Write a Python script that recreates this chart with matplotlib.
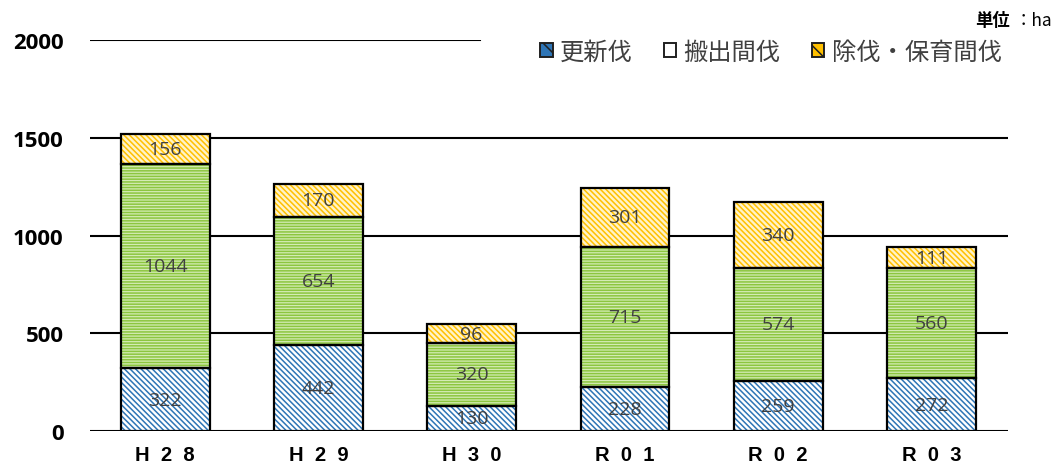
import matplotlib
matplotlib.use('Agg')
from matplotlib import pyplot as plt
import numpy as np

plt.rcParams['font.family'] = ['Noto Sans CJK JP', 'DejaVu Sans']
plt.rcParams['hatch.linewidth'] = 1.1

# data
years = ['H  2  8', 'H  2  9', 'H  3  0', 'R  0  1', 'R  0  2', 'R  0  3']
koushin = [322, 442, 130, 228, 259, 272]      # 更新伐
hanshutsu = [1044, 654, 320, 715, 574, 560]   # 搬出間伐
jobatsu = [156, 170, 96, 301, 340, 111]       # 除伐・保育間伐
series_names = ['更新伐', '搬出間伐', '除伐・保育間伐']

fig = plt.figure(figsize=(10.59, 4.77), dpi=100)
ax = fig.add_axes([0.085, 0.094, 0.867, 0.82])

x = np.arange(len(years))
width = 0.58

styles = [
    # facecolor, hatch colour, hatch
    ('white', '#2e75b6', '\\\\\\\\\\\\'),
    ('#d4ebb5', '#8cc63f', '------'),
    ('#fff3c8', '#ffc000', '\\\\\\\\\\\\'),
]

bottoms = np.zeros(len(years))
handles = []
for vals, (fc, hc, hatch), name in zip([koushin, hanshutsu, jobatsu], styles, series_names):
    vals = np.array(vals)
    ax.bar(x, vals, width, bottom=bottoms, facecolor=fc, edgecolor=hc,
           hatch=hatch, linewidth=0, zorder=3)
    ax.bar(x, vals, width, bottom=bottoms, facecolor='none', edgecolor='black',
           linewidth=1.6, zorder=4)
    for xi, b, v in zip(x, bottoms, vals):
        ax.text(xi, b + v / 2, str(v), ha='center', va='center', fontsize=14,
                color='#404040', family=['Open Sans'], zorder=5)
    if name == '搬出間伐':
        h = plt.Rectangle((0, 0), 1, 1, facecolor='white', edgecolor='#202020',
                          hatch='-', linewidth=1.4)
    else:
        h = plt.Rectangle((0, 0), 1, 1, facecolor=hc, edgecolor='#202020', hatch='\\\\',
                          linewidth=1.4)
    handles.append(h)
    bottoms = bottoms + vals

ax.set_xlim(-0.49, 5.5)
ax.set_ylim(0, 2000)
ax.set_yticks([0, 500, 1000, 1500, 2000])
for yv in [0, 500, 1000, 1500]:
    ax.axhline(yv, color='black', linewidth=1.5, zorder=1)
# top gridline stops where the legend begins
ax.axhline(2000, xmax=0.425, color='black', linewidth=1.5, zorder=1)

ax.set_xticks(x)
ax.set_xticklabels(years, fontsize=14.5, fontweight='bold', family=['Liberation Sans'])
ax.tick_params(axis='x', length=0, pad=10)
ax.tick_params(axis='y', length=0, pad=19)
for lab in ax.get_yticklabels():
    lab.set_fontsize(16)
    lab.set_fontweight('bold')
    lab.set_family(['Open Sans'])

for s in ax.spines.values():
    s.set_visible(False)

leg = ax.legend(handles, series_names, loc='center right', bbox_to_anchor=(0.955, 0.889),
                bbox_transform=fig.transFigure, ncol=3, frameon=True, fontsize=17.5,
                handlelength=0.5, handleheight=0.5, handletextpad=0.3,
                columnspacing=1.3, borderpad=0.4, borderaxespad=0)
leg.get_frame().set_edgecolor('white')
leg.get_frame().set_facecolor('white')
leg.get_frame().set_alpha(1)
leg.get_frame().set_boxstyle('square', pad=0)
leg.set_zorder(6)
for t in leg.get_texts():
    t.set_color('#404040')

fig.text(0.9207, 0.957, '単位', ha='left', va='center', fontsize=12.5, fontweight='bold')
fig.text(0.958, 0.957, '：ha', ha='left', va='center', fontsize=12.5)

fig.savefig('out.png', dpi=100)
